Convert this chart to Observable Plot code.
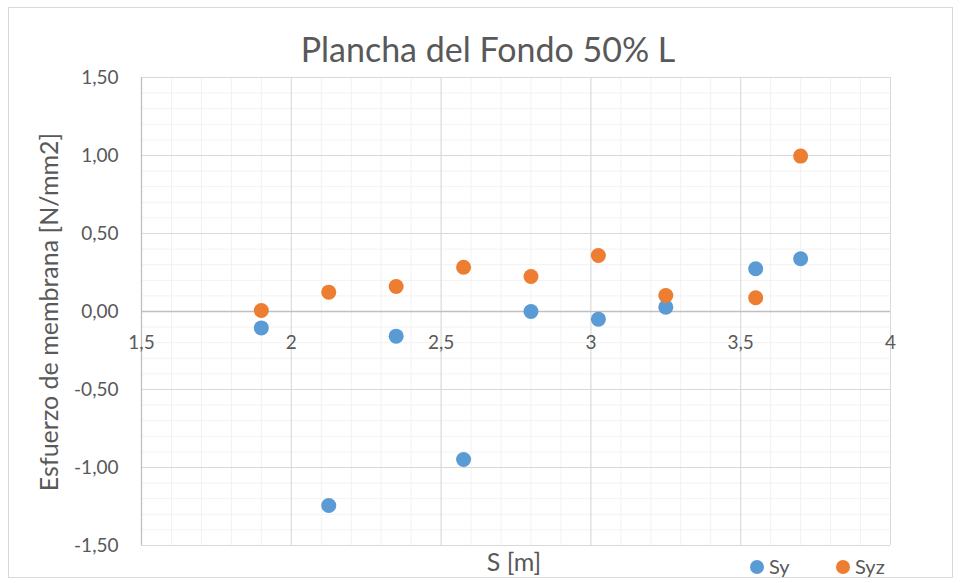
<!DOCTYPE html>
<html>
<head>
<meta charset="utf-8">
<script src="https://cdn.jsdelivr.net/npm/d3@7"></script>
<script src="https://cdn.jsdelivr.net/npm/@observablehq/plot@0.6"></script>
<style>
  html, body { margin: 0; padding: 0; background: #fff; }
  #chart { position: relative; width: 961px; height: 583px; }
</style>
</head>
<body>
<div id="chart"></div>
<script>
const sValues = [1.90, 2.125, 2.35, 2.575, 2.80, 3.025, 3.25, 3.55, 3.70];
const sy  = [-0.105, -1.244, -0.158, -0.949, 0.0, -0.049, 0.028, 0.274, 0.338];
const syz = [0.006, 0.124, 0.16, 0.284, 0.224, 0.359, 0.103, 0.088, 0.996];
const seriesNames = ["Sy", "Syz"];
const seriesColors = ["#5b9bd5", "#ed7d31"];
const xTicks = [1.5, 2, 2.5, 3, 3.5, 4];
const yTicks = [-1.5, -1.0, -0.5, 0, 0.5, 1.0, 1.5];
const title = "Plancha del Fondo 50% L";
const xLabel = "S [m]";
const yLabel = "Esfuerzo de membrana [N/mm2]";

const data = [];
sValues.forEach((s, i) => {
  data.push({s, v: sy[i], series: "Sy"});
  data.push({s, v: syz[i], series: "Syz"});
});

const font = "Lato, 'Open Sans', sans-serif";
const textColor = "#595959";
const minorX = d3.range(15, 41).map(d => d / 10);
const minorY = d3.range(-15, 16).map(d => d / 10);
const fmtX = d => String(d).replace(".", ",");
const fmtY = d => d.toFixed(2).replace(".", ",");

const chart = Plot.plot({
  width: 961,
  height: 583,
  marginLeft: 141,
  marginRight: 71,
  marginTop: 77,
  marginBottom: 38,
  style: {fontFamily: font, fontSize: "19px", color: textColor, background: "#fff", overflow: "visible"},
  x: {domain: [1.5, 4], axis: null},
  y: {domain: [-1.5, 1.5], axis: null},
  color: {domain: seriesNames, range: seriesColors},
  marks: [
    Plot.gridX(minorX, {stroke: "#f2f2f2", strokeOpacity: 1, strokeWidth: 1}),
    Plot.gridY(minorY, {stroke: "#f2f2f2", strokeOpacity: 1, strokeWidth: 1}),
    Plot.gridX(xTicks, {stroke: "#d9d9d9", strokeOpacity: 1, strokeWidth: 1}),
    Plot.gridY(yTicks, {stroke: "#d9d9d9", strokeOpacity: 1, strokeWidth: 1}),
    Plot.ruleX([1.5], {stroke: "#bfbfbf", strokeWidth: 1.3}),
    Plot.ruleY([0], {stroke: "#bfbfbf", strokeWidth: 1.3}),
    Plot.axisY(yTicks, {tickSize: 0, tickPadding: 23, tickFormat: fmtY, fontSize: 19, fill: textColor, label: null}),
    Plot.text(xTicks, {x: d => d, y: () => 0, text: fmtX, dy: 31, fontSize: 19, fill: textColor}),
    Plot.dot(data, {x: "s", y: "v", fill: "series", r: 7.5, stroke: null})
  ]
});

const svg = d3.select(chart);
// outer frame
svg.insert("rect", ":first-child")
  .attr("x", 8.5).attr("y", 7.5).attr("width", 944).attr("height", 570)
  .attr("fill", "#fff").attr("stroke", "#d9d9d9").attr("stroke-width", 1);

svg.append("text").text(title)
  .attr("x", 488).attr("y", 62).attr("text-anchor", "middle")
  .attr("font-size", 34).attr("fill", textColor).attr("font-family", font);

svg.append("text").text(xLabel)
  .attr("x", 514).attr("y", 571).attr("text-anchor", "middle")
  .attr("font-size", 25).attr("fill", textColor).attr("font-family", font);

svg.append("text").text(yLabel)
  .attr("transform", "translate(58,312) rotate(-90)").attr("text-anchor", "middle")
  .attr("font-size", 25).attr("fill", textColor).attr("font-family", font);

const legendPos = [[757, 567], [843, 567]];
seriesNames.forEach((name, i) => {
  const g = svg.append("g");
  g.append("circle").attr("cx", legendPos[i][0]).attr("cy", legendPos[i][1]).attr("r", 7).attr("fill", seriesColors[i]);
  g.append("text").text(name).attr("x", legendPos[i][0] + 12).attr("y", legendPos[i][1] + 7)
    .attr("text-anchor", "start")
    .attr("font-size", 20).attr("fill", textColor).attr("font-family", font);
});

document.getElementById("chart").appendChild(chart);
</script>
</body>
</html>
